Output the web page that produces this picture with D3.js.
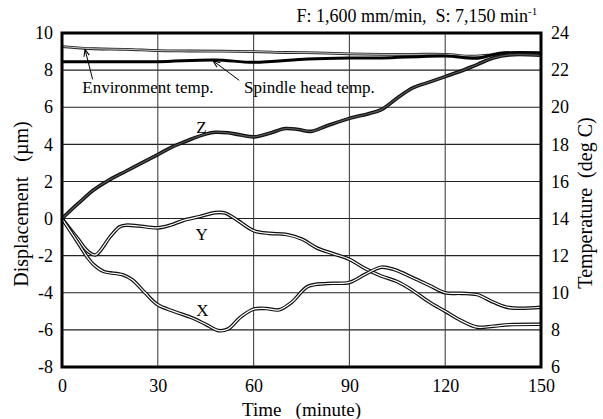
<!DOCTYPE html>
<html>
<head>
<meta charset="utf-8">
<style>
  body { margin: 0; background: #fff; }
  svg text { white-space: pre; }
</style>
</head>
<body>
<svg font-family="Liberation Serif"></svg>
<script src="https://d3js.org/d3.v7.min.js"></script>
<script>
// ---- data ----
var xTicks = [0, 30, 60, 90, 120, 150]
var leftTicks = [-8, -6, -4, -2, 0, 2, 4, 6, 8, 10]
var rightTicks = [6, 8, 10, 12, 14, 16, 18, 20, 22, 24]

// displacement, um
var zTime = [0, 5, 10, 15, 20, 25, 30, 35, 40, 45, 48, 52, 56, 60, 65, 70, 74, 78, 83, 90, 96, 100, 105, 110, 115, 120, 125, 130, 135, 140, 150]
var zDisp = [0, 0.8, 1.55, 2.1, 2.55, 3.0, 3.45, 3.9, 4.25, 4.55, 4.65, 4.62, 4.5, 4.4, 4.6, 4.85, 4.8, 4.7, 5.0, 5.4, 5.65, 5.87, 6.5, 7.05, 7.35, 7.65, 7.95, 8.3, 8.65, 8.82, 8.8]

var yTime = [0, 5, 8, 10.5, 15, 18, 20, 24, 30, 34, 38, 43, 48, 51, 55, 60, 65, 70, 75, 80, 85, 90, 95, 100, 105, 110, 115, 120, 125, 130, 135, 140, 150]
var yDisp = [0, -1.1, -1.75, -1.96, -1.0, -0.45, -0.36, -0.4, -0.5, -0.35, -0.1, 0.1, 0.32, 0.3, -0.1, -0.65, -0.8, -0.85, -1.1, -1.6, -1.9, -2.2, -2.7, -3.1, -3.4, -3.9, -4.5, -5.0, -5.5, -5.85, -5.8, -5.72, -5.7]

var xTime = [0, 5, 8, 10, 13, 19, 22, 26, 30, 35, 41, 45, 49, 52, 56, 60, 64, 68, 72, 77, 83, 90, 95, 100, 104, 110, 115, 120, 125, 130, 135, 140, 150]
var xDisp = [0, -1.3, -2.1, -2.5, -2.85, -3.03, -3.3, -4.0, -4.65, -5.0, -5.37, -5.7, -6.04, -5.95, -5.3, -4.88, -4.85, -4.92, -4.5, -3.66, -3.5, -3.44, -3.0, -2.62, -2.75, -3.2, -3.6, -4.0, -4.03, -4.1, -4.5, -4.8, -4.78]

// temperature, deg C
var envTime = [0, 10, 20, 30, 40, 60, 70, 80, 90, 100, 110, 120, 128, 133, 140, 150]
var envTemp = [23.27, 23.15, 23.12, 23.05, 23.03, 23.0, 22.95, 22.93, 22.88, 22.85, 22.85, 22.85, 22.75, 22.8, 22.9, 22.9]

var spTime = [0, 15, 30, 48, 60, 77, 90, 100, 120, 130, 137, 150]
var spTemp = [22.45, 22.45, 22.45, 22.55, 22.42, 22.6, 22.65, 22.65, 22.76, 22.64, 22.91, 22.93]

// ---- layout ----
var _width = 603
var _height = 419
var m = { left: 62, right: 541, top: 33, bottom: 367 }
var fs = 17      // annotations
var fsTick = 18  // tick labels, title
var fam = "Liberation Serif"

var _svg = d3.select("svg").attr("width", _width).attr("height", _height)

var x = d3.scaleLinear().domain([0, 150]).range([m.left, m.right])
var yL = d3.scaleLinear().domain([-8, 10]).range([m.bottom, m.top])
var yR = d3.scaleLinear().domain([6, 24]).range([m.bottom, m.top])

// grid
_svg.append("g").selectAll("line").data(leftTicks).join("line")
  .attr("x1", m.left).attr("x2", m.right)
  .attr("y1", d => yL(d)).attr("y2", d => yL(d))
  .attr("stroke", "#222").attr("stroke-width", 1.1)
_svg.append("g").selectAll("line").data(xTicks).join("line")
  .attr("y1", m.top).attr("y2", m.bottom)
  .attr("x1", d => x(d)).attr("x2", d => x(d))
  .attr("stroke", "#444").attr("stroke-width", 1.1)

// axes (labels only, frame drawn separately); plain hyphen for negatives
var fmt = d => String(d)
var axB = _svg.append("g").attr("transform", "translate(0," + m.bottom + ")")
  .call(d3.axisBottom(x).tickValues(xTicks).tickFormat(fmt).tickSize(0).tickPadding(12))
var axL = _svg.append("g").attr("transform", "translate(" + m.left + ",0)")
  .call(d3.axisLeft(yL).tickValues(leftTicks).tickFormat(fmt).tickSize(0).tickPadding(9))
var axR = _svg.append("g").attr("transform", "translate(" + m.right + ",0)")
  .call(d3.axisRight(yR).tickValues(rightTicks).tickFormat(fmt).tickSize(0).tickPadding(10))
;[axB, axL, axR].forEach(function (a) {
  a.attr("font-family", fam).attr("font-size", fsTick)
  a.select(".domain").remove()
  a.selectAll("text").attr("fill", "#000").attr("font-family", fam)
})

// lines
function mkLine(ts, vs, scale) {
  var pts = ts.map((t, i) => [t, vs[i]])
  return d3.line().x(d => x(d[0])).y(d => scale(d[1])).curve(d3.curveCatmullRom.alpha(0.5))(pts)
}
function dbl(path, outer, inner, wo, wi) {
  _svg.append("path").attr("d", path).attr("fill", "none").attr("stroke", outer).attr("stroke-width", wo)
  _svg.append("path").attr("d", path).attr("fill", "none").attr("stroke", inner).attr("stroke-width", wi)
}
dbl(mkLine(envTime, envTemp, yR), "#222", "#ddd", 2.8, 0.9)
_svg.append("path").attr("d", mkLine(spTime, spTemp, yR)).attr("fill", "none").attr("stroke", "#000").attr("stroke-width", 3)
dbl(mkLine(yTime, yDisp, yL), "#111", "#fff", 3.6, 1.2)
dbl(mkLine(xTime, xDisp, yL), "#111", "#fff", 3.6, 1.2)
dbl(mkLine(zTime, zDisp, yL), "#111", "#555", 3.6, 1.2)

// frame
_svg.append("rect").attr("x", m.left).attr("y", m.top)
  .attr("width", m.right - m.left).attr("height", m.bottom - m.top)
  .attr("fill", "none").attr("stroke", "#000").attr("stroke-width", 3)

// text helper
function txt(px, py, s, anchor, size) {
  return _svg.append("text").attr("x", px).attr("y", py).attr("text-anchor", anchor || "middle")
    .attr("font-family", fam).attr("font-size", size || fs).text(s)
}

// series labels
txt(x(43.7), yL(4.6), "Z")
txt(x(43.7), yL(-1.15), "Y")
txt(x(44), yL(-5.25), "X")

// annotations with arrows
_svg.append("defs").append("marker").attr("id", "ah")
  .attr("viewBox", "0 0 10 10").attr("refX", 10).attr("refY", 5)
  .attr("markerWidth", 7).attr("markerHeight", 7).attr("orient", "auto")
  .append("path").attr("d", "M0,1 L10,5 L0,9").attr("fill", "none").attr("stroke", "#000").attr("stroke-width", 1.5)

txt(x(26.9), yL(6.75), "Environment temp.")
_svg.append("line").attr("x1", x(9.6)).attr("y1", yL(7.5)).attr("x2", x(7.2)).attr("y2", yL(9.12))
  .attr("stroke", "#000").attr("stroke-width", 1).attr("marker-end", "url(#ah)")
txt(x(77.5), yL(6.75), "Spindle head temp.")
_svg.append("line").attr("x1", x(55.5)).attr("y1", yL(7.45)).attr("x2", x(47.3)).attr("y2", yL(8.5))
  .attr("stroke", "#000").attr("stroke-width", 1).attr("marker-end", "url(#ah)")

// title
txt(528, 22, "F: 1,600 mm/min,  S: 7,150 min", "end", fsTick)
txt(528, 15, "-1", "start", 11)

// axis titles
txt(0, 0, "Displacement   (\u00b5m)", "middle", 20).attr("transform", "translate(21,204) rotate(-90)").attr("dy", "0.35em")
txt(0, 0, "Temperature  (deg C)", "middle", 20).attr("transform", "translate(585,203) rotate(-90)").attr("dy", "0.35em")
txt((m.left + m.right) / 2, 416, "Time   (minute)", "middle", 19)
</script>
</body>
</html>
